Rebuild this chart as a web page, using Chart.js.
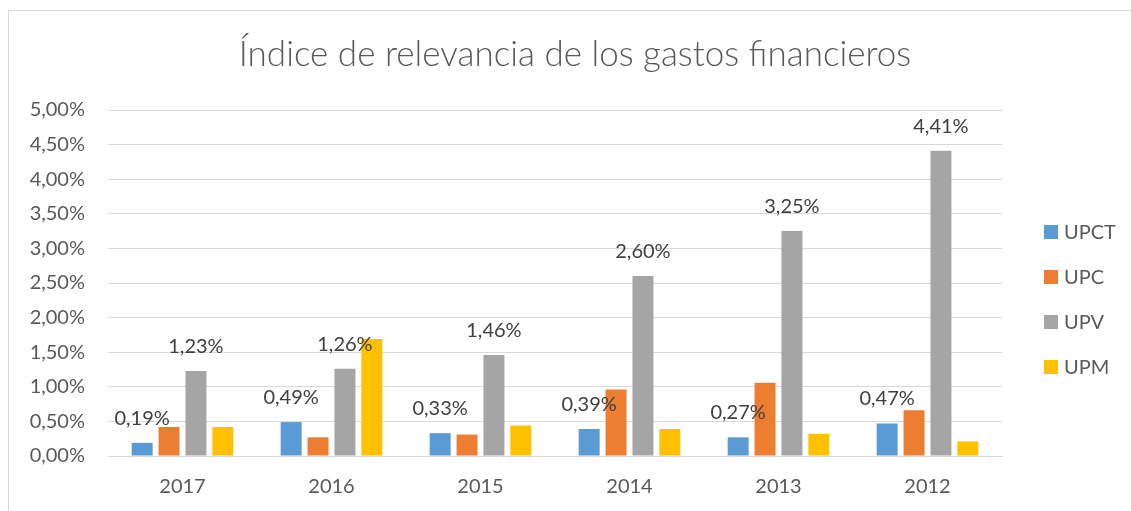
<!DOCTYPE html>
<html>
<head>
<meta charset="utf-8">
<script src="https://cdn.jsdelivr.net/npm/chart.js@4.4.1/dist/chart.umd.min.js"></script>
<style>
  html, body { margin: 0; padding: 0; background: #ffffff; }
  #wrap { position: relative; width: 1131px; height: 511px; overflow: hidden; }
  #frame { position: absolute; left: 8px; top: 10px; width: 1200px; height: 600px;
           border-top: 1.5px solid #d9d9d9; border-left: 1.5px solid #d9d9d9; box-sizing: border-box; }
  canvas { position: absolute; left: 0; top: 0; }
</style>
</head>
<body>
<div id="wrap">
  <div id="frame"></div>
  <canvas id="c" width="1131" height="511"></canvas>
</div>
<script>
const titleText = 'Índice de relevancia de los gastos financieros';
const categories = ['2017', '2016', '2015', '2014', '2013', '2012'];
const seriesNames = ['UPCT', 'UPC', 'UPV', 'UPM'];
const upct = [0.19, 0.49, 0.33, 0.39, 0.27, 0.47];
const upc  = [0.42, 0.27, 0.31, 0.96, 1.06, 0.66];
const upv  = [1.23, 1.26, 1.46, 2.60, 3.25, 4.41];
const upm  = [0.42, 1.69, 0.44, 0.39, 0.32, 0.21];
const yMin = 0, yMax = 5, yStep = 0.5;
const labelledSeries = ['UPCT', 'UPV'];

const colors = ['#5B9BD5', '#ED7D31', '#A5A5A5', '#FFC000'];
const FONT = 'Lato, "Open Sans", sans-serif';
const fmt = v => v.toFixed(2).replace('.', ',') + '%';

const dataLabels = {
  id: 'dataLabels',
  afterDatasetsDraw(chart) {
    const ctx = chart.ctx;
    ctx.save();
    ctx.font = '20px ' + FONT;
    ctx.fillStyle = '#404040';
    ctx.textAlign = 'center';
    ctx.textBaseline = 'alphabetic';
    chart.data.datasets.forEach((ds, di) => {
      if (!labelledSeries.includes(ds.label)) return;
      const meta = chart.getDatasetMeta(di);
      meta.data.forEach((bar, i) => {
        ctx.fillText(fmt(ds.data[i]), bar.x, bar.y - 18);
      });
    });
    ctx.restore();
  }
};

const sideLegend = {
  id: 'sideLegend',
  afterDraw(chart) {
    const ctx = chart.ctx;
    ctx.save();
    ctx.font = '20px ' + FONT;
    ctx.textAlign = 'left';
    ctx.textBaseline = 'middle';
    chart.data.datasets.forEach((ds, i) => {
      const y = 232 + i * 45;
      ctx.fillStyle = ds.backgroundColor;
      ctx.fillRect(1044, y - 7, 14, 14);
      ctx.fillStyle = '#595959';
      ctx.fillText(ds.label, 1064, y + 1);
    });
    ctx.restore();
  }
};

const seriesData = [upct, upc, upv, upm];

new Chart(document.getElementById('c'), {
  type: 'bar',
  data: {
    labels: categories,
    datasets: seriesNames.map((n, i) => ({
      label: n,
      data: seriesData[i],
      backgroundColor: colors[i],
      borderWidth: 0,
      categoryPercentage: 0.722,
      barPercentage: 0.78
    }))
  },
  options: {
    responsive: false,
    animation: false,
    devicePixelRatio: 1,
    layout: { padding: { left: 19, right: 0, top: 0, bottom: 0 } },
    plugins: {
      legend: { display: false },
      tooltip: { enabled: false },
      title: {
        display: true,
        text: titleText,
        color: '#595959',
        font: { family: FONT, size: 35, weight: '300', lineHeight: 1.2 },
        padding: { top: 34, bottom: 34 }
      }
    },
    scales: {
      x: {
        grid: { display: false, drawTicks: false },
        border: { display: true, color: '#d9d9d9', width: 1 },
        ticks: { color: '#595959', font: { family: FONT, size: 20, lineHeight: 1.2 }, padding: 19 },
        afterFit: s => { s.height = 55; }
      },
      y: {
        min: yMin, max: yMax,
        grid: { color: '#d9d9d9', lineWidth: 1, drawTicks: false },
        border: { display: false },
        ticks: {
          stepSize: yStep,
          color: '#595959',
          font: { family: FONT, size: 20 },
          padding: 23,
          callback: v => fmt(v)
        },
        afterFit: s => { s.width = 89; }
      },
      yRight: {
        position: 'right',
        display: true,
        grid: { display: false, drawTicks: false },
        border: { display: false },
        ticks: { display: false },
        afterFit: s => { s.width = 129; }
      }
    }
  },
  plugins: [dataLabels, sideLegend]
});
</script>
</body>
</html>
